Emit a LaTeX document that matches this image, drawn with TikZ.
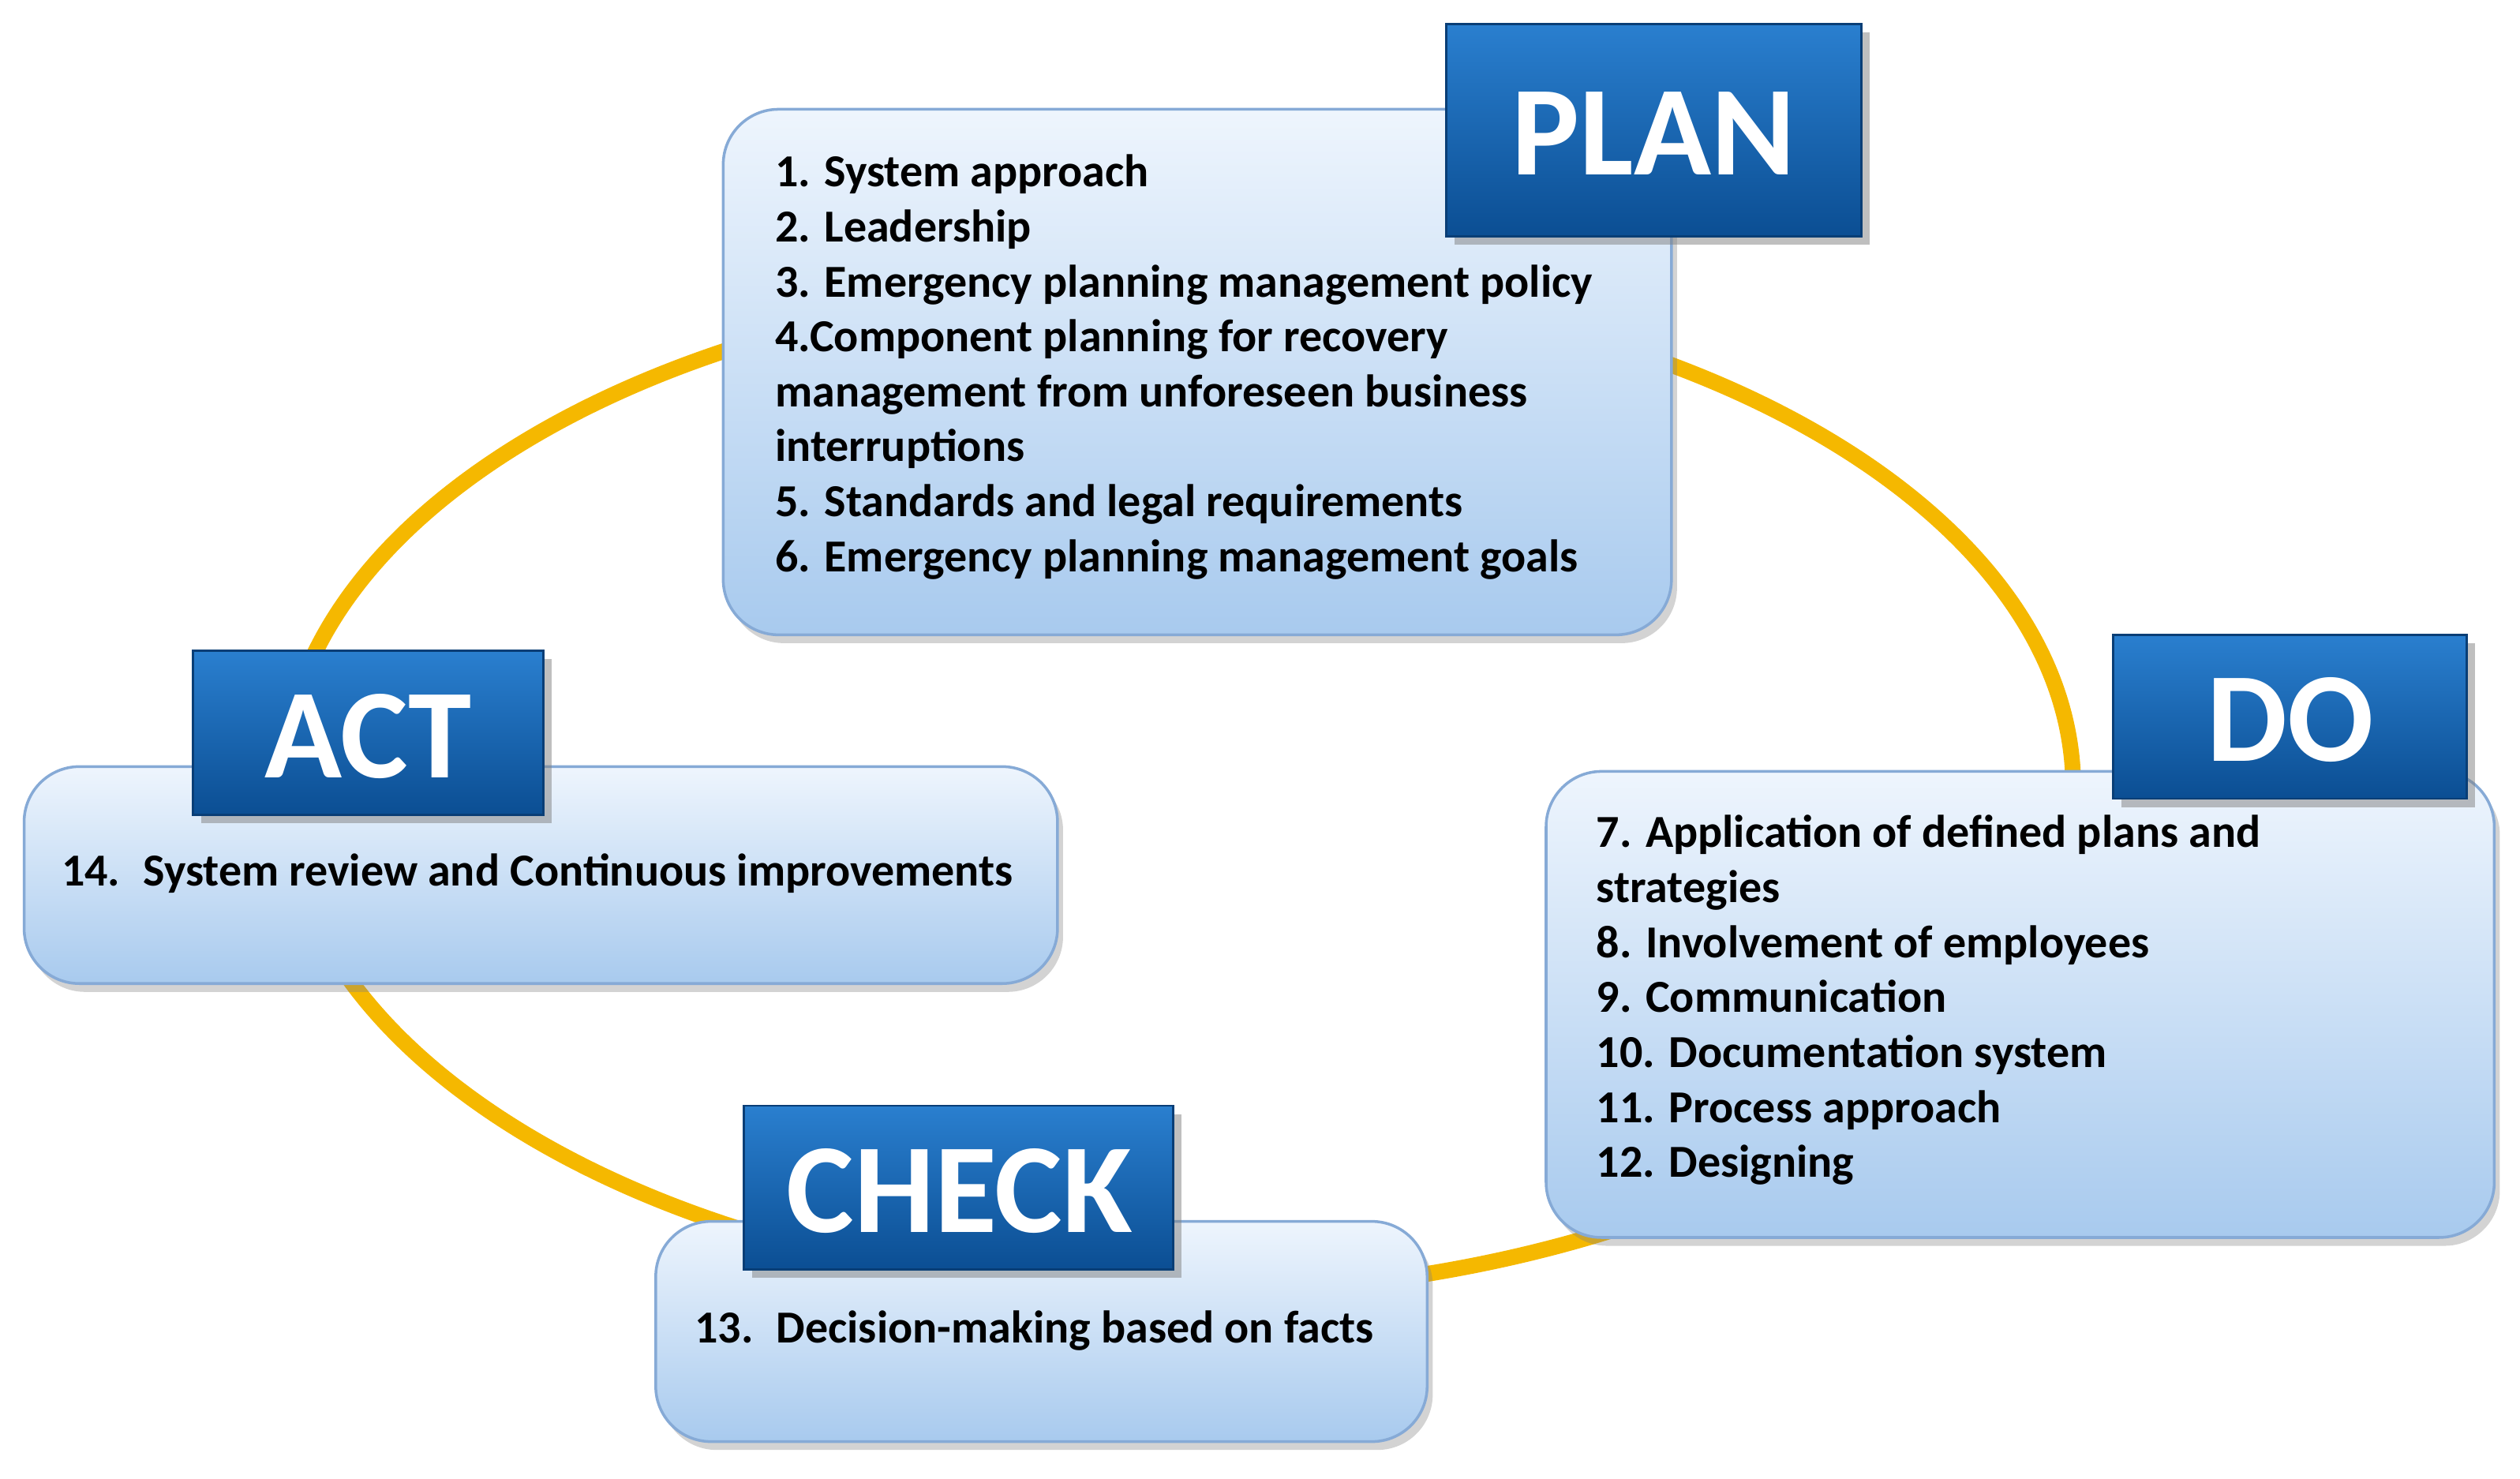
\documentclass[tikz,border=0pt]{standalone}
\usepackage{fontspec}
\setmainfont{Carlito}
\usetikzlibrary{shadows}
\definecolor{ring}{HTML}{F5B800}
\definecolor{boxtop}{HTML}{EEF5FD}
\definecolor{boxbot}{HTML}{A8CAEE}
\definecolor{boxline}{HTML}{86AAD6}
\definecolor{labtop}{HTML}{2A7FCF}
\definecolor{labbot}{HTML}{0B4E93}
\begin{document}
\begin{tikzpicture}[x=0.02036cm,y=-0.02036cm,
  box/.style={draw=boxline,line width=1pt,rounded corners=0.7cm,top color=boxtop,bottom color=boxbot,drop shadow={opacity=0.35,shadow xshift=2pt,shadow yshift=-3pt}},
  lab/.style={draw=labbot!80!black,line width=0.8pt,top color=labtop,bottom color=labbot,drop shadow={opacity=0.5,shadow xshift=3pt,shadow yshift=-3pt}},
  labtxt/.style={text=white,font=\fontsize{46}{50}\selectfont\bfseries},
  txt/.style={anchor=north west,align=left,font=\fontsize{16.5}{19.8}\selectfont\bfseries,inner sep=0pt}]
\useasboundingbox (0,0) rectangle (1568,920);
\draw[ring,line width=0.2cm] (733,490) ellipse [x radius=557,y radius=315];
% PLAN
\path[box] (450,68) rectangle (1040,395);
\node[txt] (plantxt) at (482,96) {1. System approach\\2. Leadership\\3. Emergency planning management policy\\4.Component planning for recovery\\management from unforeseen business\\interruptions\\5. Standards and legal requirements\\6. Emergency planning management goals};
\path[lab] (900,15) rectangle (1158,147);
\node[labtxt] (plan) at (1029,83) {PLAN};
% DO
\path[box] (962,480) rectangle (1552,770);
\node[txt] (dotxt) at (993,507) {7. Application of defined plans and\\strategies\\8. Involvement of employees\\9. Communication\\10. Documentation system\\11. Process approach\\12. Designing};
\path[lab] (1315,395) rectangle (1535,497);
\node[labtxt] (do) at (1425,448) {DO};
% ACT
\path[box] (15,477) rectangle (658,612);
\node[txt] (acttxt) at (38,531) {14.\enspace System review and Continuous improvements};
\path[lab] (120,405) rectangle (338,507);
\node[labtxt] (act) at (229,458) {ACT};
% CHECK
\path[box] (408,760) rectangle (888,897);
\node[txt] (checktxt) at (432,815) {13.\enspace Decision-making based on facts};
\path[lab] (463,688) rectangle (730,790);
\node[labtxt] (check) at (597,741) {CHECK};
\end{tikzpicture}
\end{document}
